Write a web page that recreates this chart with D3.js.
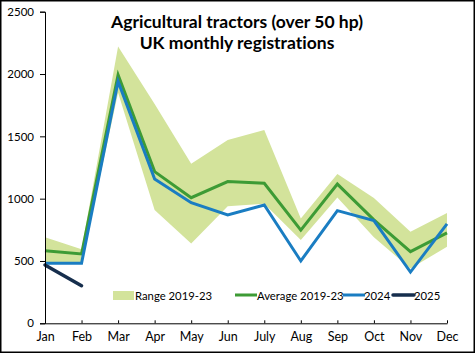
<!DOCTYPE html>
<html><head><meta charset="utf-8">
<script src="https://cdn.jsdelivr.net/npm/d3@7"></script>
<style>body{margin:0;background:#fff}svg{display:block}text{font-variant-ligatures:none}</style>
</head><body>
<script>
const months = ["Jan","Feb","Mar","Apr","May","Jun","July","Aug","Sep","Oct","Nov","Dec"];
const rangeUpper = [690, 595, 2220, 1760, 1280, 1470, 1550, 840, 1197, 1005, 735, 885];
const rangeLower = [490, 490, 1850, 910, 640, 940, 960, 668, 1010, 690, 440, 615];
const avg1923 = [583, 556, 1993, 1217, 1008, 1137, 1124, 748, 1117, 830, 575, 725];
const y2024 = [482, 482, 1940, 1158, 968, 869, 949, 500, 904, 824, 411, 797];
const y2025 = [468, 302];
const yTicks = [0, 500, 1000, 1500, 2000, 2500];

const W = 475, H = 353;
const svg = d3.select("body").append("svg").attr("width", W).attr("height", H);
svg.append("rect").attr("x",0.75).attr("y",0.75).attr("width",W-1.5).attr("height",H-1.5)
  .attr("fill","#fff").attr("stroke","#000").attr("stroke-width",1.5);

const x = d3.scalePoint().domain(months).range([45, 447]);
const y = d3.scaleLinear().domain([0, 2500]).range([323.3, 11.7]);
const font = "Lato, 'Open Sans', sans-serif";

// band
const band = d3.area().x((d,i)=>x(months[i])).y0((d,i)=>y(rangeLower[i])).y1(d=>y(d));
svg.append("path").datum(rangeUpper).attr("d", band).attr("fill", "#d3e39b");

const line = d3.line().x((d,i)=>x(months[i])).y(d=>y(d));
svg.append("path").datum(avg1923).attr("d", line).attr("fill","none").attr("stroke","#3d9b35").attr("stroke-width",3);
svg.append("path").datum(y2024).attr("d", line).attr("fill","none").attr("stroke","#1a7dc2").attr("stroke-width",3);
svg.append("path").datum(y2025).attr("d", line).attr("fill","none").attr("stroke","#162e4d").attr("stroke-width",3.5).attr("stroke-linecap","round");

// axes
const yAxis = svg.append("g").attr("transform","translate(45,0)")
  .call(d3.axisLeft(y).tickValues(yTicks).tickFormat(d3.format("d")).tickSize(5).tickPadding(6));
yAxis.select(".domain").attr("stroke","#000").attr("stroke-width",1);
yAxis.selectAll("text").attr("font-family",font).attr("font-size",11.5).attr("fill","#000");

const xAxis = svg.append("g").attr("transform","translate(0,323.3)")
  .call(d3.axisBottom(x).tickSizeInner(-3).tickSizeOuter(0).tickPadding(9));
xAxis.select(".domain").attr("stroke","#000");
xAxis.selectAll("text").attr("font-family",font).attr("font-size",12.5).attr("fill","#000");

// title
const t = svg.append("text").attr("x",237).attr("text-anchor","middle")
  .attr("font-family",font).attr("font-weight","bold").attr("font-size",17.5).attr("fill","#000");
t.append("tspan").attr("x",237).attr("y",28).text("Agricultural tractors (over 50 hp)");
t.append("tspan").attr("x",237).attr("y",49).text("UK monthly registrations");

// legend
const lg = svg.append("g").attr("font-family",font).attr("font-size",11.3).attr("fill","#000");
lg.append("rect").attr("x",113).attr("y",291).attr("width",21).attr("height",9).attr("fill","#d3e39b");
lg.append("text").attr("x",135).attr("y",300).text("Range 2019-23");
lg.append("line").attr("x1",235).attr("x2",257).attr("y1",295).attr("y2",295).attr("stroke","#3d9b35").attr("stroke-width",3);
lg.append("text").attr("x",257).attr("y",300).text("Average 2019-23");
lg.append("line").attr("x1",343).attr("x2",365).attr("y1",295).attr("y2",295).attr("stroke","#1a7dc2").attr("stroke-width",3);
lg.append("text").attr("x",364).attr("y",300).text("2024");
lg.append("line").attr("x1",393).attr("x2",414).attr("y1",295).attr("y2",295).attr("stroke","#162e4d").attr("stroke-width",3.5).attr("stroke-linecap","round");
lg.append("text").attr("x",414).attr("y",300).text("2025");
</script>
</body></html>
